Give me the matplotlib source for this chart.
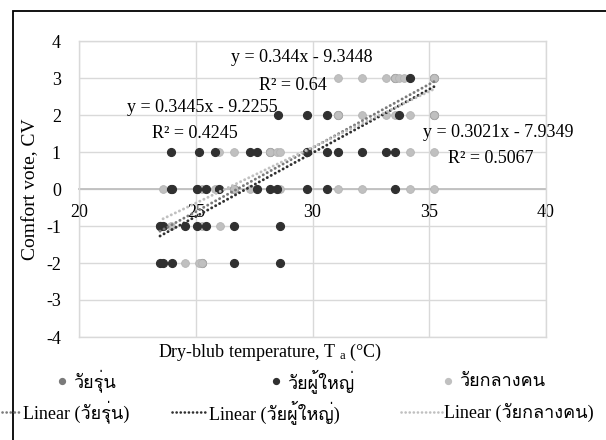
import matplotlib
matplotlib.use("Agg")
import matplotlib.pyplot as plt
from matplotlib import font_manager
from matplotlib.lines import Line2D
from matplotlib.patches import Rectangle
import numpy as np

# ---------------- data ----------------
series_names = ["วัยรุ่น", "วัยผู้ใหญ่", "วัยกลางคน"]

teen_x = [23.47, 25.07, 28.20, 29.75, 31.10, 33.53, 35.20, 35.20, 25.25, 26.64]
teen_y = [-1, 0, 1, 1, 2, 3, 3, 2, -2, 0]

adult_x = [34.18,
           28.54, 29.75, 30.60, 33.72,
           23.94, 25.14, 25.82, 27.32, 27.64, 29.75, 30.60, 31.10, 32.10, 33.15, 33.53,
           23.94, 24.00, 25.07, 25.42, 26.00, 27.64, 28.20, 28.50, 29.75, 30.60, 33.53,
           23.47, 23.60, 24.54, 25.07, 25.42, 26.64, 28.60,
           23.47, 23.60, 24.00, 26.64, 28.60]
adult_y = [3,
           2, 2, 2, 2,
           1, 1, 1, 1, 1, 1, 1, 1, 1, 1, 1,
           0, 0, 0, 0, 0, 0, 0, 0, 0, 0, 0,
           -1, -1, -1, -1, -1, -1, -1,
           -2, -2, -2, -2, -2]

middle_x = [31.10, 32.10, 33.15, 33.53, 33.72, 33.90, 35.20,
            31.10, 32.10, 33.15, 33.53, 34.18, 35.20,
            26.00, 26.64, 28.20, 28.50, 28.60, 34.18, 35.20,
            23.60, 25.25, 25.82, 26.64, 27.32, 28.60, 31.10, 32.10, 34.18, 35.20,
            23.94, 25.25, 26.04,
            24.54, 25.15, 25.25]
middle_y = [3, 3, 3, 3, 3, 3, 3,
            2, 2, 2, 2, 2, 2,
            1, 1, 1, 1, 1, 1, 1,
            0, 0, 0, 0, 0, 0, 0, 0, 0, 0,
            -1, -1, -1,
            -2, -2, -2]

# trendline coefficients (slope, intercept) and x ranges
trend_slope = [0.3445, 0.344, 0.3021]
trend_intercept = [-9.2255, -9.3448, -7.9349]
trend_r2 = ["0.4245", "0.64", "0.5067"]
trend_xmin = [23.47, 23.47, 23.60]
trend_xmax = [35.20, 35.20, 35.20]

x_ticks = [20, 25, 30, 35, 40]
y_ticks = [-4, -3, -2, -1, 0, 1, 2, 3, 4]

# ---------------- fonts ----------------
def find_thai_font():
    try:
        from fontTools.ttLib import TTFont
    except Exception:
        return None
    for f in font_manager.fontManager.ttflist:
        try:
            tt = TTFont(f.fname, fontNumber=0, lazy=True)
            cmap = tt.getBestCmap()
            if cmap and 0x0E27 in cmap and 0x0E38 in cmap:
                return f.name
        except Exception:
            continue
    return None

thai = find_thai_font()
fams = ["Liberation Serif"]
if thai:
    fams.append(thai)
fams.append("DejaVu Sans")
plt.rcParams["font.family"] = fams
plt.rcParams["mathtext.fontset"] = "custom"
plt.rcParams["mathtext.rm"] = "Liberation Serif"
plt.rcParams["mathtext.it"] = "Liberation Serif:italic"
plt.rcParams["axes.unicode_minus"] = False

FS = 13
c_teen = "#7a7a7a"
c_adult = "#303030"
c_mid = "#c0c0c0"
colors = [c_teen, c_adult, c_mid]
DOT = (0, (0.05, 1.5))

W, H = 606, 440
fig = plt.figure(figsize=(W / 100, H / 100), dpi=100)
ax = fig.add_axes([79 / W, 1 - 337 / H, (546 - 79) / W, (337 - 41) / H])

ax.set_xlim(20, 40)
ax.set_ylim(-4, 4)
ax.set_xticks(x_ticks)
ax.set_yticks(y_ticks)
ax.grid(True, color="#d9d9d9", linewidth=1.0, zorder=0)
ax.set_axisbelow(True)
for s in ["left", "right", "top"]:
    ax.spines[s].set_color("#d9d9d9")
    ax.spines[s].set_linewidth(1.0)
ax.spines["bottom"].set_position(("data", 0))
ax.spines["bottom"].set_color("#bfbfbf")
ax.spines["bottom"].set_linewidth(1.3)
ax.spines["bottom"].set_zorder(1)
ax.axhline(-4, color="#d9d9d9", linewidth=1.0, clip_on=False, zorder=0)
ax.tick_params(axis="both", length=0, labelsize=FS)
ax.tick_params(axis="x", pad=11)
ax.tick_params(axis="y", pad=13)

ms = 5.6
ax.plot(teen_x, teen_y, "o", color=c_teen, ms=ms, mec=c_teen, zorder=2, clip_on=False)
ax.plot(middle_x, middle_y, "o", color=c_mid, ms=ms, mec="#b4b4b4", mew=0.6, zorder=3, clip_on=False)
ax.plot(adult_x, adult_y, "o", color=c_adult, ms=ms, mec=c_adult, zorder=4, clip_on=False)

for i in range(3):
    xs = np.linspace(trend_xmin[i], trend_xmax[i], 50)
    ys = trend_slope[i] * xs + trend_intercept[i]
    ax.plot(xs, ys, color=colors[i], lw=2.1, linestyle=DOT,
            dash_capstyle="round", zorder=5)

# trendline equations
def eq(i):
    return "y = %sx - %s" % (f"{trend_slope[i]:g}", f"{-trend_intercept[i]:g}")

def fx(px):
    return px / W

def fy(py):
    return 1 - py / H

fig.text(fx(202), fy(107), eq(0), fontsize=FS, ha="center", va="center")
fig.text(fx(195), fy(133), "R² = " + trend_r2[0], fontsize=FS, ha="center", va="center")
fig.text(fx(302), fy(58), eq(1), fontsize=FS, ha="center", va="center")
fig.text(fx(293), fy(85), "R² = " + trend_r2[1], fontsize=FS, ha="center", va="center")
fig.text(fx(498), fy(132), eq(2), fontsize=FS, ha="center", va="center")
fig.text(fx(491), fy(158), "R² = " + trend_r2[2], fontsize=FS, ha="center", va="center")

ax.set_ylabel("Comfort vote, CV", fontsize=14)
ax.yaxis.set_label_coords((39 - 79) / (546 - 79), 0.5)
fig.text(fx(270), fy(352), r"Dry-blub temperature, T $_{\mathrm{a}}$ (°C)", fontsize=FS,
         ha="center", va="center")

# legend (manual)
row1_y = fy(381)
row2_y = fy(412)
mk_x = [62, 276, 448]
for i in range(3):
    fig.add_artist(Line2D([fx(mk_x[i])], [row1_y], marker="o", color=colors[i],
                          ms=4.2, linestyle="none"))
    fig.text(fx(mk_x[i] + 11), row1_y, series_names[i], fontsize=FS, ha="left", va="center")

ln_x0 = [2, 172, 401]
ln_x1 = [23, 209, 444]
for i in range(3):
    fig.add_artist(Line2D([fx(ln_x0[i]), fx(ln_x1[i] - 2)], [row2_y, row2_y], color=colors[i],
                          lw=1.9, linestyle=DOT, dash_capstyle="round"))
    fig.text(fx(ln_x1[i]), row2_y, "Linear (" + series_names[i] + ")", fontsize=FS,
             ha="left", va="center")

# chart area border
fig.add_artist(Rectangle((fx(13), fy(H + 20)), 1.2, fy(11) - fy(H + 20),
                         transform=fig.transFigure, fill=False, edgecolor="black", lw=1.3))

fig.savefig("out.png", dpi=100)
